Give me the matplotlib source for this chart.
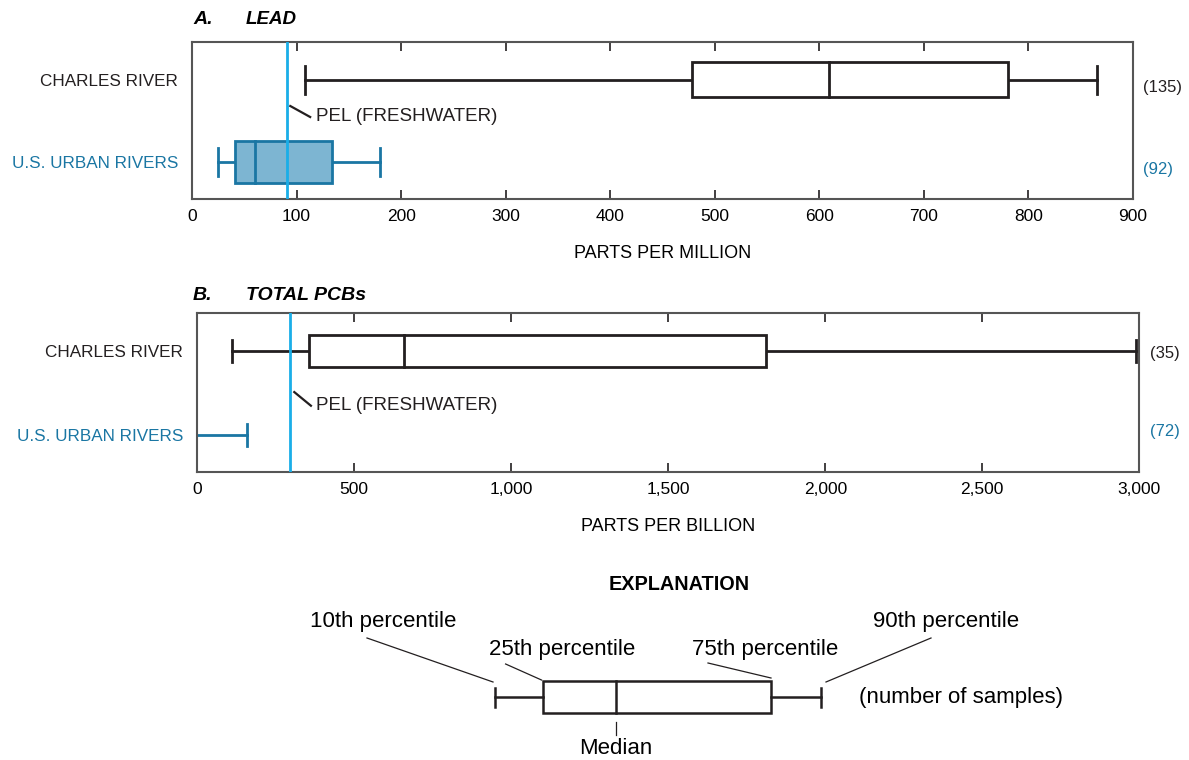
import numpy as np
import matplotlib
matplotlib.use("Agg")
import matplotlib.pyplot as plt

plt.rcParams['font.family'] = ['Liberation Sans', 'DejaVu Sans']

sites = ["CHARLES RIVER", "U.S. URBAN RIVERS"]

# A. lead, parts per million
lead_p10 = [108, 25]
lead_p25 = [478, 41]
lead_median = [609, 60]
lead_p75 = [780, 134]
lead_p90 = [866, 180]
lead_n = [135, 92]
lead_pel = 91.3

# B. total PCBs, parts per billion (urban box lies below the axis start)
pcb_p10 = [110, np.nan]
pcb_p25 = [356, np.nan]
pcb_median = [659, np.nan]
pcb_p75 = [1812, np.nan]
pcb_p90 = [2990, 157]
pcb_n = [35, 72]
pcb_pel = 296

lead_ticks = [0, 100, 200, 300, 400, 500, 600, 700, 800, 900]
pcb_ticks = [0, 500, 1000, 1500, 2000, 2500, 3000]

DARK = "#231f20"
BLUE = "#1a76a3"
FILL = "#7db5d2"
PEL_C = "#1aaee8"
SPINE = "#555555"

fig = plt.figure(figsize=(11.89, 7.6), dpi=100)


def panel(ax, p10, p25, med, p75, p90, n, pel, ticks, xmax, xlabel, box_h, cap_h, pel_txt, n_off):
    ypos = [0.76, 0.235]
    colors = [DARK, BLUE]
    fills = ["white", FILL]
    for i in range(2):
        y = ypos[i]
        c = colors[i]
        lo = p10[i] if not np.isnan(p10[i]) else 0
        left_box = p25[i] if not np.isnan(p25[i]) else lo
        right_box = p75[i] if not np.isnan(p75[i]) else lo
        ax.plot([lo, left_box], [y, y], color=c, lw=2, zorder=2)
        ax.plot([right_box, p90[i]], [y, y], color=c, lw=2, zorder=2)
        if not np.isnan(p10[i]):
            ax.plot([p10[i]] * 2, [y - cap_h / 2, y + cap_h / 2], color=c, lw=2, zorder=2)
        ax.plot([p90[i]] * 2, [y - cap_h / 2, y + cap_h / 2], color=c, lw=2, zorder=2)
        if not np.isnan(p25[i]):
            ax.add_patch(plt.Rectangle((p25[i], y - box_h[i] / 2), p75[i] - p25[i], box_h[i],
                                       facecolor=fills[i], edgecolor=c, lw=2, zorder=2))
            ax.plot([med[i]] * 2, [y - box_h[i] / 2, y + box_h[i] / 2], color=c, lw=2, zorder=3)
        ax.text(1.011, y + n_off[i], "(%d)" % n[i], transform=ax.transAxes, color=c,
                fontsize=12, va="center", ha="left")
    ax.axvline(pel, color=PEL_C, lw=2, zorder=4)
    ax.plot(pel_txt[0], pel_txt[1], color=DARK, lw=1.6, zorder=4)
    ax.text(pel_txt[2], pel_txt[3], "PEL (FRESHWATER)", fontsize=13.5, color=DARK,
            va="center", ha="left")
    ax.set_xlim(0, xmax)
    ax.set_ylim(0, 1)
    ax.set_xticks(ticks)
    ax.set_xticklabels(["{:,}".format(t) for t in ticks], fontsize=12.5)
    ax.set_yticks(ypos)
    ax.set_yticklabels(sites, fontsize=12.3)
    for lab, c in zip(ax.get_yticklabels(), colors):
        lab.set_color(c)
    ax.tick_params(axis="x", direction="in", top=True, bottom=True, length=6.5, width=1.2,
                   color=DARK, pad=7)
    ax.tick_params(axis="y", length=0, pad=10)
    for s in ax.spines.values():
        s.set_color(SPINE)
        s.set_linewidth(1.5)
    ax.set_xlabel(xlabel, fontsize=13, labelpad=15)


axA = fig.add_axes([0.1615, 0.7382, 0.7914, 0.2066])
panel(axA, lead_p10, lead_p25, lead_median, lead_p75, lead_p90, lead_n, lead_pel,
      lead_ticks, 900, "PARTS PER MILLION", [0.22, 0.27], 0.18,
      ([94, 113], [0.592, 0.522], 119, 0.525), [-0.05, -0.045])
fig.text(193 / 1189, 1 - 20 / 760, "A.", fontsize=14, fontweight="bold", style="italic",
         va="center", ha="left")
fig.text(246 / 1189, 1 - 20 / 760, "LEAD", fontsize=13.5, fontweight="bold", style="italic",
         va="center", ha="left")

axB = fig.add_axes([0.1659, 0.3789, 0.7923, 0.2092])
panel(axB, pcb_p10, pcb_p25, pcb_median, pcb_p75, pcb_p90, pcb_n, pcb_pel,
      pcb_ticks, 3000, "PARTS PER BILLION", [0.2, 0.2], 0.14,
      ([309, 362], [0.503, 0.417], 378, 0.42), [-0.012, 0.02])
fig.text(193 / 1189, 1 - 296 / 760, "B.", fontsize=14, fontweight="bold", style="italic",
         va="center", ha="left")
fig.text(246 / 1189, 1 - 296 / 760, "TOTAL PCBs", fontsize=14, fontweight="bold", style="italic",
         va="center", ha="left")

# explanation diagram
ax_e = fig.add_axes([0, 0, 1, 1])
ax_e.set_xlim(0, 1189)
ax_e.set_ylim(760, 0)
ax_e.axis("off")
ax_e.patch.set_alpha(0)
ax_e.text(679, 585, "EXPLANATION", fontsize=14.3, fontweight="bold", ha="center", va="center")
lw = 1.8
ax_e.plot([495, 542.6], [697, 697], color=DARK, lw=lw)
ax_e.plot([771.3, 821], [697, 697], color=DARK, lw=lw)
ax_e.plot([495, 495], [688, 707], color=DARK, lw=lw)
ax_e.plot([821, 821], [688, 707], color=DARK, lw=lw)
ax_e.add_patch(plt.Rectangle((542.6, 681), 228.7, 32, facecolor="white", edgecolor=DARK, lw=lw))
ax_e.plot([616, 616], [681, 713], color=DARK, lw=lw)
leaders = [((367, 638), (493, 682)), ((505.6, 664), (541.5, 680)),
           ((708, 663), (771, 678)), ((931, 638), (826, 682)),
           ((616, 721.7), (616, 735))]
for a, b in leaders:
    ax_e.plot([a[0], b[0]], [a[1], b[1]], color=DARK, lw=0.9)
ax_e.text(383, 621, "10th percentile", fontsize=16, ha="center", va="center")
ax_e.text(562, 650, "25th percentile", fontsize=16, ha="center", va="center")
ax_e.text(765, 650, "75th percentile", fontsize=16, ha="center", va="center")
ax_e.text(946, 621, "90th percentile", fontsize=16, ha="center", va="center")
ax_e.text(859, 697, "(number of samples)", fontsize=16, ha="left", va="center")
ax_e.text(616, 748, "Median", fontsize=16, ha="center", va="center")

fig.savefig("out.png", dpi=100)
